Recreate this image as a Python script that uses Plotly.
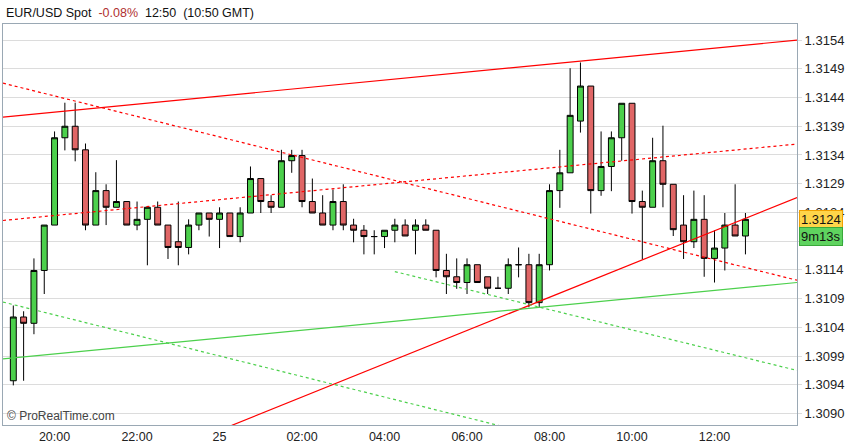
import pandas as pd
import plotly.graph_objects as go

# EUR/USD 15 minute bars, 24 Feb 19:00 -> 25 Feb 12:45 (local time)
times = pd.date_range("2013-02-24 19:00", periods=72, freq="15min")

opens = [1.30947, 1.31058, 1.31047, 1.31139, 1.31218, 1.31370, 1.31390, 1.31349, 1.31218, 1.31278,
         1.31249, 1.31259, 1.31218, 1.31228, 1.31249, 1.31218, 1.31189, 1.31179, 1.31218, 1.31239,
         1.31228, 1.31239, 1.31198, 1.31239, 1.31299, 1.31259, 1.31249, 1.31330, 1.31339, 1.31259,
         1.31239, 1.31218, 1.31259, 1.31218, 1.31209, 1.31198, 1.31198, 1.31209, 1.31218, 1.31209,
         1.31218, 1.31209, 1.31139, 1.31128, 1.31118, 1.31149, 1.31128, 1.31108, 1.31108, 1.31149,
         1.31149, 1.31083, 1.31149, 1.31278, 1.31309, 1.31399, 1.31460, 1.31278, 1.31320, 1.31370,
         1.31430, 1.31259, 1.31249, 1.31330, 1.31289, 1.31218, 1.31189, 1.31228, 1.31160, 1.31178,
         1.31218, 1.31199]
highs = [1.31078, 1.31068, 1.31160, 1.31218, 1.31381, 1.31431, 1.31431, 1.31360, 1.31310, 1.31289,
         1.31331, 1.31259, 1.31259, 1.31249, 1.31259, 1.31218, 1.31259, 1.31228, 1.31239, 1.31239,
         1.31249, 1.31239, 1.31249, 1.31320, 1.31299, 1.31270, 1.31349, 1.31349, 1.31349, 1.31299,
         1.31270, 1.31280, 1.31289, 1.31229, 1.31218, 1.31209, 1.31209, 1.31229, 1.31228, 1.31228,
         1.31228, 1.31209, 1.31168, 1.31160, 1.31160, 1.31149, 1.31128, 1.31128, 1.31160, 1.31179,
         1.31168, 1.31168, 1.31289, 1.31349, 1.31491, 1.31501, 1.31460, 1.31381, 1.31381, 1.31430,
         1.31430, 1.31278, 1.31370, 1.31391, 1.31289, 1.31270, 1.31278, 1.31270, 1.31209, 1.31239,
         1.31289, 1.31239]
lows = [1.30939, 1.30947, 1.31028, 1.31098, 1.31218, 1.31348, 1.31329, 1.31209, 1.31218, 1.31218,
        1.31249, 1.31218, 1.31209, 1.31148, 1.31218, 1.31159, 1.31148, 1.31167, 1.31209, 1.31198,
        1.31178, 1.31198, 1.31188, 1.31239, 1.31239, 1.31239, 1.31249, 1.31309, 1.31249, 1.31239,
        1.31218, 1.31209, 1.31209, 1.31188, 1.31167, 1.31167, 1.31178, 1.31188, 1.31199, 1.31167,
        1.31209, 1.31127, 1.31098, 1.31107, 1.31098, 1.31118, 1.31098, 1.31108, 1.31098, 1.31127,
        1.31075, 1.31075, 1.31139, 1.31248, 1.31309, 1.31379, 1.31238, 1.31269, 1.31277, 1.31330,
        1.31238, 1.31158, 1.31249, 1.31249, 1.31199, 1.31159, 1.31178, 1.31128, 1.31118, 1.31139,
        1.31199, 1.31167]
closes = [1.31058, 1.31047, 1.31139, 1.31218, 1.31370, 1.31390, 1.31349, 1.31218, 1.31278, 1.31249,
          1.31259, 1.31218, 1.31228, 1.31249, 1.31218, 1.31179, 1.31179, 1.31218, 1.31239, 1.31228,
          1.31239, 1.31198, 1.31239, 1.31299, 1.31259, 1.31249, 1.31330, 1.31339, 1.31259, 1.31239,
          1.31218, 1.31259, 1.31218, 1.31209, 1.31198, 1.31198, 1.31209, 1.31218, 1.31199, 1.31218,
          1.31209, 1.31139, 1.31128, 1.31118, 1.31149, 1.31118, 1.31108, 1.31108, 1.31149, 1.31149,
          1.31083, 1.31149, 1.31278, 1.31309, 1.31409, 1.31460, 1.31278, 1.31320, 1.31370, 1.31430,
          1.31259, 1.31249, 1.31330, 1.31289, 1.31210, 1.31189, 1.31228, 1.31160, 1.31178, 1.31218,
          1.31199, 1.31228]

# hand drawn trend lines (start/end time, start/end price)
red_solid_t = ["2013-02-24 18:45", "2013-02-25 14:00"]
red_solid_p = [1.31406, 1.31540]
red_steep_t = ["2013-02-25 00:15", "2013-02-25 14:00"]
red_steep_p = [1.30868, 1.31266]
red_dash_down_t = ["2013-02-24 18:45", "2013-02-25 14:00"]
red_dash_down_p = [1.31465, 1.31122]
red_dash_up_t = ["2013-02-24 18:45", "2013-02-25 14:00"]
red_dash_up_p = [1.31226, 1.31359]
green_solid_t = ["2013-02-24 18:45", "2013-02-25 14:00"]
green_solid_p = [1.30985, 1.31118]
green_dash_1_t = ["2013-02-24 18:45", "2013-02-25 06:50"]
green_dash_1_p = [1.31084, 1.30868]
green_dash_2_t = ["2013-02-25 04:15", "2013-02-25 14:00"]
green_dash_2_p = [1.31137, 1.30965]

price_ticks = [1.3154, 1.3149, 1.3144, 1.3139, 1.3134, 1.3129, 1.3124, 1.3119,
               1.3114, 1.3109, 1.3104, 1.3099, 1.3094, 1.3089]
price_labels = ["1.3154", "1.3149", "1.3144", "1.3139", "1.3134", "1.3129", "1.3124", "1.3119",
                "1.3114", "1.3109", "1.3104", "1.3099", "1.3094", "1.3090"]
time_ticks = ["2013-02-24 20:00", "2013-02-24 22:00", "2013-02-25 00:00", "2013-02-25 02:00",
              "2013-02-25 04:00", "2013-02-25 06:00", "2013-02-25 08:00", "2013-02-25 10:00",
              "2013-02-25 12:00"]
time_labels = ["20:00", "22:00", "25", "02:00", "04:00", "06:00", "08:00", "10:00", "12:00"]

last_price = "1.3124"
countdown = "9m13s"

GREEN = "#4cd04c"
RED = "#e06666"
FONT = "Liberation Sans, Arial, sans-serif"

fig = go.Figure()

fig.add_trace(go.Candlestick(
    x=times, open=opens, high=highs, low=lows, close=closes,
    increasing=dict(fillcolor=GREEN, line=dict(color="black", width=1)),
    decreasing=dict(fillcolor=RED, line=dict(color="black", width=1)),
    whiskerwidth=0, hoverinfo="skip",
))

# trend lines on top of the candles
for t, p, col, dash in [
    (red_solid_t, red_solid_p, "#ff0000", "solid"),
    (red_steep_t, red_steep_p, "#ff0000", "solid"),
    (red_dash_down_t, red_dash_down_p, "#ff0000", "3px,3px"),
    (red_dash_up_t, red_dash_up_p, "#ff0000", "3px,3px"),
    (green_solid_t, green_solid_p, "#4cd04c", "solid"),
    (green_dash_1_t, green_dash_1_p, "#4cd04c", "3px,3px"),
    (green_dash_2_t, green_dash_2_p, "#4cd04c", "3px,3px"),
]:
    fig.add_trace(go.Scatter(x=t, y=p, mode="lines", line=dict(color=col, width=1.2, dash=dash),
                             hoverinfo="skip"))

fig.update_layout(
    width=846, height=446,
    margin=dict(l=2, r=48, t=24, b=17),
    paper_bgcolor="white", plot_bgcolor="white",
    showlegend=False,
    boxgap=0.18,
    font=dict(family=FONT, size=12, color="#222"),
    xaxis=dict(
        type="date",
        range=["2013-02-24 18:45", "2013-02-25 14:00"],
        rangeslider=dict(visible=False),
        tickvals=time_ticks, ticktext=time_labels,
        showgrid=False, showline=True, linecolor="#9aa8b4", mirror=True,
        ticks="", tickfont=dict(size=12.5, color="#222"),
    ),
    yaxis=dict(
        side="right",
        range=[1.30870, 1.31568],
        tickvals=price_ticks, ticktext=price_labels,
        showgrid=True, gridcolor="#dcdcdc", gridwidth=1,
        showline=True, linecolor="#9aa8b4", mirror=True,
        ticks="outside", ticklen=4, tickcolor="#dcdcdc",
        tickfont=dict(size=13, color="#222"),
        zeroline=False,
    ),
)

# header line
fig.add_annotation(
    xref="paper", yref="paper", x=0, y=1, xanchor="left", yanchor="bottom", yshift=2, xshift=1,
    text="EUR/USD Spot  <span style='color:#b03030'>-0.08%</span>  12:50  (10:50 GMT)",
    showarrow=False, font=dict(size=12.5, color="#111"),
)
fig.add_annotation(
    xref="paper", yref="paper", x=0, y=0, xanchor="left", yanchor="bottom", xshift=2, yshift=0,
    text="© ProRealTime.com", showarrow=False, font=dict(size=12, color="#444"),
)

# last price / countdown boxes on the price axis
fig.add_annotation(
    xref="paper", yref="y", x=1, y=closes[-1], xanchor="left", yanchor="middle", xshift=2,
    text=last_price, showarrow=False, font=dict(size=13, color="#111"),
    bgcolor="#ffd54a", bordercolor="#f0a000", borderwidth=1, borderpad=1,
)
fig.add_annotation(
    xref="paper", yref="y", x=1, y=closes[-1], xanchor="left", yanchor="middle", xshift=2, yshift=-17,
    text=countdown, showarrow=False, font=dict(size=13, color="#111"),
    bgcolor="#5fd35f", bordercolor="#3aa83a", borderwidth=1, borderpad=1,
)

# drop the browser's default page margin so the figure sits at the window corner
fig.write_html("out.html", config={"displayModeBar": False},
               post_script="document.body.style.margin='0';")
